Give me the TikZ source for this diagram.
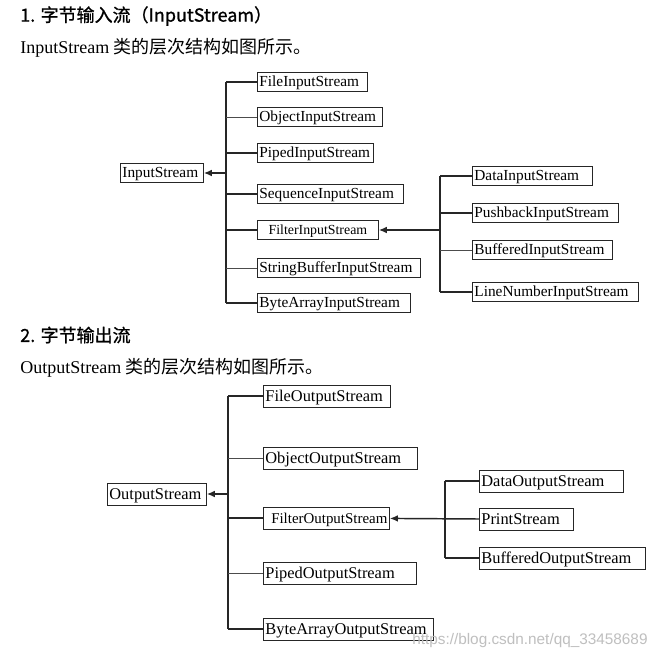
\documentclass[tikz,border=0pt]{standalone}
\usepackage{fontspec}
\setmainfont{Liberation Serif}
\newfontfamily\cjk{Noto Sans CJK SC}
\newfontfamily\cjkhead[FakeBold=1]{Noto Sans CJK SC}
\newfontfamily\wmfont{Liberation Sans}
\usetikzlibrary{arrows.meta}

\tikzset{
  cls/.style={draw=black!85, line width=0.6pt, anchor=west, inner xsep=1.5pt, inner ysep=2pt,
    align=left, text height=9pt, text depth=1.8pt, font=\fontsize{11.5}{13}\selectfont},
  bigcls/.style={cls, inner ysep=2.5pt, text height=9.6pt, text depth=2pt, font=\fontsize{12.3}{14}\selectfont},
  link/.style={line width=1.1pt, black!85},
  thin/.style={line width=0.7pt, black!70},
  up/.style={link, -{Latex[length=6pt,width=5pt]}},
  head/.style={anchor=west, inner sep=0pt, font=\cjkhead\fontsize{13.5}{16}\selectfont},
  intro/.style={anchor=west, inner sep=0pt, font=\fontsize{13.5}{16}\selectfont},
}

\begin{document}
\begin{tikzpicture}[x=0.75pt, y=-0.75pt]
  \useasboundingbox[fill=white] (0,0) rectangle (667,660);

  \node[head] (h1) at (20,16) {1. 字节输入流（InputStream）};
  \node[intro] (t1) at (20,48) {InputStream {\cjk 类的层次结构如图所示。}};

  % InputStream
  \node[cls, text width=59.25pt] (is) at (120,173) {InputStream};
  \foreach \n/\t/\y/\w in {isfile/FileInputStream/82/79.5, isobj/ObjectInputStream/117/90.75,
      ispiped/PipedInputStream/153/84, isseq/SequenceInputStream/194/106.5,
      isstr/StringBufferInputStream/268/119.25, isbyte/ByteArrayInputStream/303/111.75}
    \node[cls, text width=\w pt] (\n) at (257,\y) {\t};
  \node[cls, text width=87.75pt, align=center, font=\fontsize{10.4}{12}\selectfont] (isfilter) at (257,230) {FilterInputStream};
  \foreach \n/\t/\y/\w in {fidata/DataInputStream/176/87, fipush/PushbackInputStream/213/106.5,
      fibuf/BufferedInputStream/250/102, filine/LineNumberInputStream/292/121.5}
    \node[cls, text width=\w pt] (\n) at (472,\y) {\t};

  \coordinate (ta) at (226,173);
  \coordinate (tb) at (440,230);
  \draw[up] (ta) -- (is);
  \draw[link] (isfile.west -| ta) -- (isbyte.west -| ta);
  \foreach \n in {isfile,ispiped,isseq,isfilter,isbyte}
    \draw[link] (\n.west) -- (\n.west -| ta);
  \foreach \n in {isobj,isstr}
    \draw[thin] (\n.west) -- (\n.west -| ta);
  \draw[up] (tb) -- (isfilter);
  \draw[link] (fidata.west -| tb) -- (filine.west -| tb);
  \foreach \n in {fidata,fipush,filine}
    \draw[link] (\n.west) -- (\n.west -| tb);
  \draw[thin] (fibuf.west) -- (fibuf.west -| tb);

  \node[head] (h2) at (20,335) {2. 字节输出流};
  \node[intro] (t2) at (20,368) {OutputStream {\cjk 类的层次结构如图所示。}};

  % OutputStream
  \node[bigcls, text width=71.25pt] (os) at (107,494) {OutputStream};
  \foreach \n/\t/\y/\w in {osfile/FileOutputStream/396/92.25, osobj/ObjectOutputStream/458/112.5,
      ospiped/PipedOutputStream/573/111.75, osbyte/ByteArrayOutputStream/629/124.5}
    \node[bigcls, text width=\w pt] (\n) at (263,\y) {\t};
  \node[bigcls, text width=91.5pt, align=right, font=\fontsize{11.2}{13}\selectfont] (osfilter) at (263,518) {FilterOutputStream};
  \foreach \n/\t/\y/\w in {fodata/DataOutputStream/481/105, foprint/PrintStream/519/67.5,
      fobuf/BufferedOutputStream/558/121.5}
    \node[bigcls, text width=\w pt] (\n) at (479,\y) {\t};

  \coordinate (tc) at (228,494);
  \coordinate (td) at (445,519);
  \draw[up] (tc) -- (os);
  \draw[link] (osfile.west -| tc) -- (osbyte.west -| tc);
  \foreach \n in {osfile,osfilter,osbyte}
    \draw[link] (\n.west) -- (\n.west -| tc);
  \foreach \n in {osobj,ospiped}
    \draw[thin] (\n.west) -- (\n.west -| tc);
  \draw[up] (foprint.west) -- (osfilter);
  \draw[link] (fodata.west -| td) -- (fobuf.west -| td);
  \foreach \n in {fodata,fobuf}
    \draw[link] (\n.west) -- (\n.west -| td);

  \node[anchor=west, inner sep=0pt, text=black!25, font=\wmfont\fontsize{11.5}{13}\selectfont]
    (wm) at (412,641) {https://blog.csdn.net/qq\_33458689};
\end{tikzpicture}
\end{document}
